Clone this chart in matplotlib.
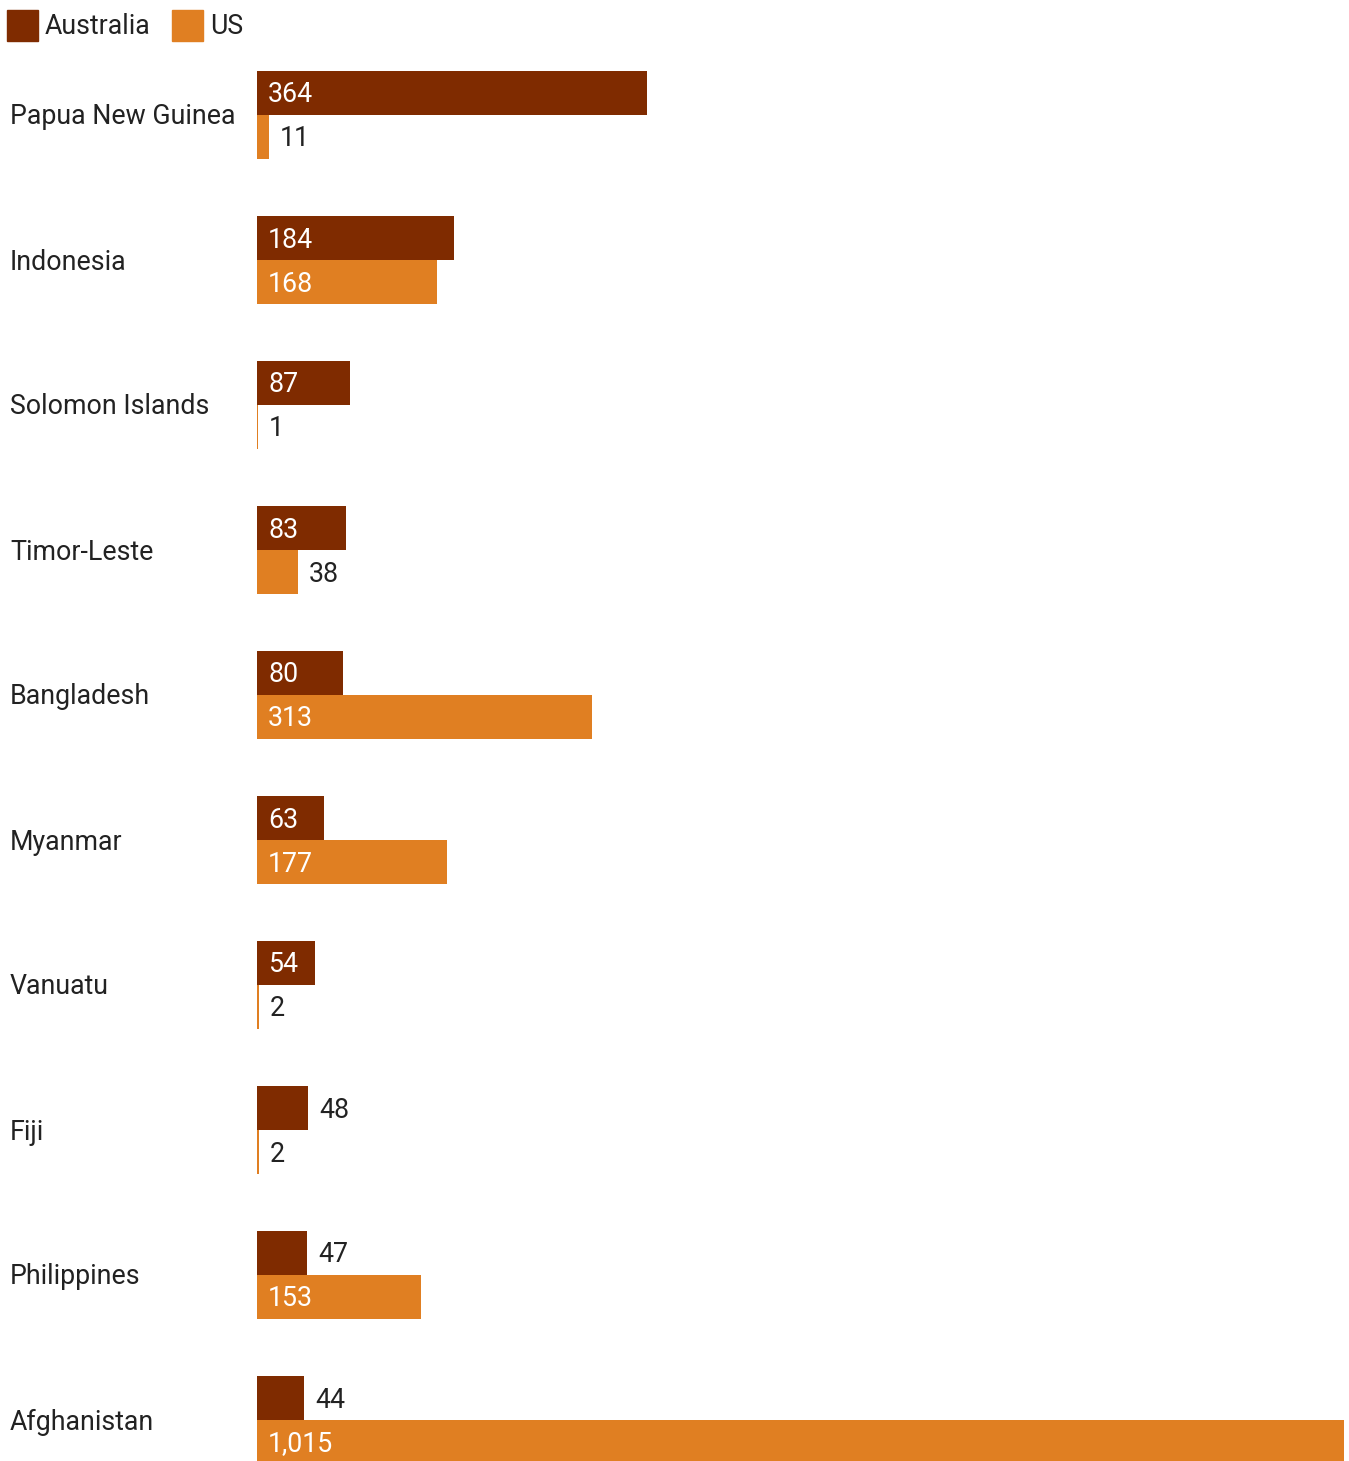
import numpy as np
import matplotlib.pyplot as plt
from matplotlib.patches import Rectangle
from matplotlib.transforms import blended_transform_factory, offset_copy

plt.rcParams['font.family'] = ['Roboto', 'DejaVu Sans']

countries = ['Papua New Guinea', 'Indonesia', 'Solomon Islands', 'Timor-Leste',
             'Bangladesh', 'Myanmar', 'Vanuatu', 'Fiji', 'Philippines', 'Afghanistan']
australia = [364, 184, 87, 83, 80, 63, 54, 48, 47, 44]
us = [11, 168, 1, 38, 313, 177, 2, 2, 153, 1015]
series = ['Australia', 'US']
colors = ['#7f2b00', '#e07f22']

W, H = 1349, 1461
fig = plt.figure(figsize=(W / 100, H / 100), dpi=100)

# axes in pixel terms: bars start at x=257, 1015 ends near x=1344
row_px = 145
top_center = 115
ax = fig.add_axes([257 / W, 0, (1344 - 257) / W, 1])
ax.set_xlim(0, max(us))
ax.set_ylim((H - top_center) / row_px, -top_center / row_px)
ax.axis('off')

bh = 44 / row_px
y = np.arange(len(countries))

for k, vals in enumerate([australia, us]):
    yy = y - bh / 2 if k == 0 else y + bh / 2
    ax.barh(yy, vals, height=bh, color=colors[k], edgecolor='none')
    for yi, v in zip(yy, vals):
        txt = f'{v:,}'
        if v >= 50:
            ax.annotate(txt, (0, yi), xytext=(11, -2), textcoords='offset pixels',
                        ha='left', va='center', color='white', fontsize=19.3)
        else:
            ax.annotate(txt, (v, yi), xytext=(11, -2), textcoords='offset pixels',
                        ha='left', va='center', color='#222222', fontsize=19.3)

trans = offset_copy(blended_transform_factory(fig.transFigure, ax.transData),
                    fig=fig, x=0, y=-2, units='dots')
for yi, name in zip(y, countries):
    ax.text(10 / W, yi, name, transform=trans, ha='left', va='center',
            fontsize=19.3, color='#222222')

# legend
lx = [7, 172]
for k, name in enumerate(series):
    fig.patches.append(Rectangle((lx[k] / W, 1 - 41 / H), 31 / W, 31 / H,
                                 transform=fig.transFigure, color=colors[k]))
    fig.text((lx[k] + 38) / W, 1 - 27 / H, name, ha='left', va='center',
             fontsize=19.3, color='#222222')

fig.savefig('out.png', dpi=100)
